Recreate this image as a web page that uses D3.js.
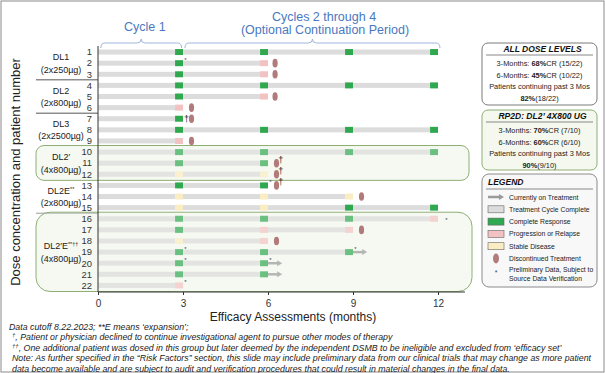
<!DOCTYPE html>
<html>
<head>
<meta charset="utf-8">
<script src="https://cdn.jsdelivr.net/npm/d3@7"></script>
<style>
  body { margin: 0; background: #fff; }
  svg { font-family: "Liberation Sans", Arial, sans-serif; display: block; }
</style>
</head>
<body>
<div id="svg"></div>
<script>
// patients and the result of each completed 3-month cycle
var patientIds = [1, 2, 3, 4, 5, 6, 7, 8, 9, 10, 11, 12, 13, 14, 15, 16, 17, 18, 19, 20, 21, 22];
var cycleResults = [
  ["CR", "CR", "CR", "CR"],
  ["CR", "PD"],
  ["CR", "PD"],
  ["CR", "CR", "CR", "CR"],
  ["CR", "PD"],
  ["PD"],
  ["CR"],
  ["CR", "CR", "CR", "CR"],
  ["PD"],
  ["CR", "CR", "CR", "CR"],
  ["CR", "CR"],
  ["SD", "SD"],
  ["CR", "CR"],
  ["SD", "SD", "SD"],
  ["SD", "SD", "CR", "CR"],
  ["CR", "CR", "CR", "PD"],
  ["CR", "PD", "PD"],
  ["SD", "PD"],
  ["CR", "CR", "CR"],
  ["CR", "CR"],
  ["CR", "CR"],
  ["PD"]
];
var cycleLength = 3;

var discPatients = [2, 3, 5, 6, 7, 9, 11, 12, 13, 14, 17, 18];
var discMonths = [6.25, 6.25, 6.25, 3.3, 3.3, 3.3, 6.3, 6.3, 6.3, 9.3, 9.3, 6.3];

var daggerPatients = [7, 11, 12, 13];
var daggerMonths = [3.12, 6.45, 6.45, 6.45];

var arrowPatients = [19, 20, 21];
var arrowEnds = [9.5, 6.5, 6.5];

var starPatients = [2, 13, 16, 19, 19, 20, 20, 22];
var starMonths = [3, 6, 12.3, 3, 9, 3, 6, 3];

// dose groups
var groupNames = ["DL1", "DL2", "DL3", "DL2\u2032", "DL2E", "DL2\u2032E"];
var groupSups = ["", "", "", "", "**", "**\u2020\u2020"];
var groupDoses = ["(2x250\u00b5g)", "(2x800\u00b5g)", "(2x2500\u00b5g)", "(4x800\u00b5g)", "(2x800\u00b5g)", "(4x800\u00b5g)"];
var groupFirst = [1, 4, 7, 10, 13, 16];
var groupLast = [3, 6, 9, 12, 15, 22];
var groupBoxed = [false, false, false, true, false, true];

var xTicks = [0, 3, 6, 9, 12];

// side panels
var allDoseTitle = "ALL DOSE LEVELS";
var allDoseLines = [["3-Months: ", "68%", "CR (15/22)"], ["6-Months: ", "45%", "CR (10/22)"], ["Patients continuing past 3 Mos", "", ""], ["", "82%", "(18/22)"]];
var rp2dTitle = "RP2D: DL2\u2019 4X800 UG";
var rp2dLines = [["3-Months: ", "70%", "CR (7/10)"], ["6-Months: ", "60%", "CR (6/10)"], ["Patients continuing past 3 Mos", "", ""], ["", "90%", "(9/10)"]];
var legendKeys = ["arrow", "TC", "CR", "PD", "SD", "disc", "star"];
var legendLabels = ["Currently on Treatment", "Treatment Cycle Complete", "Complete Response", "Progression or Relapse", "Stable Disease", "Discontinued Treatment", "Preliminary Data, Subject to|Source Data Verification"];

var footnotes = [
  ["", "Data cutoff 8.22.2023; **E means \u2018expansion\u2019;"],
  ["\u2020", ", Patient or physician declined to continue investigational agent to pursue other modes of therapy"],
  ["\u2020\u2020", ", One additional patient was dosed in this group but later deemed by the independent DSMB to be ineligible and excluded from \u2018efficacy set\u2019"],
  ["", "Note: As further specified in the \u201cRisk Factors\u201d section, this slide may include preliminary data from our clinical trials that may change as more patient"],
  ["", "data become available and are subject to audit and verification procedures that could result in material changes in the final data."]
];

var colors = { CR: "#2fa84f", PD: "#f2c2c2", SD: "#fbedc3", TC: "#dcdcdc", disc: "#b27b7b", arrow: "#9a9a9a" };

var width = 605, height = 373;
var svg = d3.select("#svg").append("svg").attr("width", width).attr("height", height);

var x = d3.scaleLinear().domain([0, 12]).range([98, 438]);
var y = d3.scaleBand().domain(patientIds).range([46.5, 291]);
var yc = function(p) { return y(p) + y.bandwidth() / 2; };
var blue = "#4a78c0";

// frame
svg.append("rect").attr("x", 1).attr("y", 1).attr("width", width - 2).attr("height", height - 2)
  .attr("fill", "none").attr("stroke", "#8a8a8a").attr("stroke-width", 1);

// group boxes (background)
var boxes = [];
groupNames.forEach(function(g, i) {
  if (!groupBoxed[i]) return;
  var top = y(groupFirst[i]) - 1, bot = y(groupLast[i]) + y.bandwidth() + 0.5;
  boxes.push({ top: top, bot: bot, r: i === 5 ? 14 : 8, right: i === 5 ? 472 : 469 });
});
svg.selectAll(".boxbg").data(boxes).enter().append("rect")
  .attr("x", 36).attr("y", function(d) { return d.top; })
  .attr("width", function(d) { return d.right - 36; })
  .attr("height", function(d) { return d.bot - d.top; })
  .attr("rx", function(d) { return d.r; })
  .attr("fill", "#f5f9f1");

// separators between unboxed groups
var sepRows = [3, 6, 15];
svg.selectAll(".sep").data(sepRows).enter().append("line")
  .attr("x1", 36).attr("x2", x(0))
  .attr("y1", function(d) { return y(d) + y.bandwidth(); })
  .attr("y2", function(d) { return y(d) + y.bandwidth(); })
  .attr("stroke", function(d) { return d === 15 ? "#999" : "#555"; }).attr("stroke-width", 1);

// bars
var segW = 0.28;
patientIds.forEach(function(p, i) {
  var res = cycleResults[i];
  var g = svg.append("g");
  res.forEach(function(r, c) {
    var s = c * cycleLength, e = (c + 1) * cycleLength;
    g.append("rect").attr("x", x(s)).attr("width", x(e - segW) - x(s))
      .attr("y", yc(p) - 2.5).attr("height", 5).attr("fill", colors.TC);
    g.append("rect").attr("x", x(e - segW)).attr("width", x(e) - x(e - segW))
      .attr("y", yc(p) - 3).attr("height", 6).attr("fill", colors[r]);
  });
});

// arrows: currently on treatment
arrowPatients.forEach(function(p, i) {
  var s = cycleResults[p - 1].length * cycleLength;
  svg.append("line").attr("x1", x(s)).attr("x2", x(arrowEnds[i]) - 4)
    .attr("y1", yc(p)).attr("y2", yc(p)).attr("stroke", colors.arrow).attr("stroke-width", 2.5);
  svg.append("path").attr("d", "M" + (x(arrowEnds[i]) - 5) + "," + (yc(p) - 3) + "L" + x(arrowEnds[i]) + "," + yc(p) + "L" + (x(arrowEnds[i]) - 5) + "," + (yc(p) + 3) + "Z")
    .attr("fill", colors.arrow);
});

// overlay to lighten marks inside boxes
svg.selectAll(".boxov").data(boxes).enter().append("rect")
  .attr("x", 36).attr("y", function(d) { return d.top; })
  .attr("width", function(d) { return d.right - 36; })
  .attr("height", function(d) { return d.bot - d.top; })
  .attr("rx", function(d) { return d.r; })
  .attr("fill", "#f5f9f1").attr("fill-opacity", 0.3)
  .attr("stroke", "#8fae74").attr("stroke-width", 1);

// discontinued
svg.selectAll(".disc").data(discPatients).enter().append("ellipse")
  .attr("cx", function(d, i) { return x(discMonths[i]); })
  .attr("cy", function(d) { return yc(d); })
  .attr("rx", 2.6).attr("ry", 4.3).attr("fill", colors.disc);

svg.selectAll(".dag").data(daggerPatients).enter().append("text")
  .attr("x", function(d, i) { return x(daggerMonths[i]); })
  .attr("y", function(d) { return yc(d) + (d === 7 ? 3 : 0); })
  .attr("font-size", 9).attr("fill", "#222").attr("text-anchor", "middle")
  .text("\u2020");

svg.selectAll(".star").data(starPatients).enter().append("text")
  .attr("x", function(d, i) { return x(starMonths[i]) + (starMonths[i] % 3 === 0 ? 2.5 : 0); })
  .attr("y", function(d, i) { return yc(d) + (starMonths[i] % 3 === 0 ? -1 : 3); })
  .attr("font-size", 6).attr("fill", "#445").attr("text-anchor", "middle")
  .text("*");

// y axis line and patient numbers
svg.append("line").attr("x1", x(0)).attr("x2", x(0)).attr("y1", 46).attr("y2", 292)
  .attr("stroke", "#333").attr("stroke-width", 1);
svg.selectAll(".pid").data(patientIds).enter().append("text")
  .attr("x", 92).attr("y", function(d) { return yc(d) + 3.3; })
  .attr("text-anchor", "end").attr("font-size", 9.4).attr("fill", "#333")
  .text(function(d) { return d; });

// group labels
groupNames.forEach(function(g, i) {
  var mid = (yc(groupFirst[i]) + yc(groupLast[i])) / 2;
  var t = svg.append("text").attr("x", 61).attr("y", mid - 3).attr("text-anchor", "middle")
    .attr("font-size", 9).attr("fill", "#222");
  t.append("tspan").text(g);
  if (groupSups[i]) t.append("tspan").attr("font-size", 5.5).attr("dy", -3).text(groupSups[i]);
  svg.append("text").attr("x", 61).attr("y", mid + 9.5).attr("text-anchor", "middle")
    .attr("font-size", 9).attr("fill", "#222").text(groupDoses[i]);
});

// x axis
var xAxis = d3.axisBottom(x).tickValues(xTicks).tickSize(3).tickPadding(5);
var xg = svg.append("g").attr("transform", "translate(0,292)").call(xAxis);
xg.select(".domain").remove();
xg.selectAll("text").attr("font-size", 10).attr("fill", "#333").attr("font-family", "Liberation Sans, Arial, sans-serif");
xg.selectAll("line").attr("stroke", "#333");
svg.append("line").attr("x1", x(0)).attr("x2", x(12.95)).attr("y1", 292).attr("y2", 292)
  .attr("stroke", "#333").attr("stroke-width", 1);

svg.append("text").attr("x", 293).attr("y", 321).attr("text-anchor", "middle")
  .attr("font-size", 12).attr("fill", "#222").text("Efficacy Assessments (months)");

svg.append("text").attr("transform", "translate(20,172) rotate(-90)").attr("text-anchor", "middle")
  .attr("font-size", 13).attr("fill", "#222").text("Dose concentration and patient number");

// cycle brackets
function brace(x0, x1, yb) {
  var xm = (x0 + x1) / 2;
  return "M" + x0 + "," + (yb + 5) + "Q" + x0 + "," + yb + " " + (x0 + 4) + "," + yb +
    "L" + (xm - 4) + "," + yb + "Q" + xm + "," + yb + " " + xm + "," + (yb - 4) +
    "Q" + xm + "," + yb + " " + (xm + 4) + "," + yb +
    "L" + (x1 - 4) + "," + yb + "Q" + x1 + "," + yb + " " + x1 + "," + (yb + 5);
}
svg.append("path").attr("d", brace(x(0.1), x(2.95), 43)).attr("fill", "none").attr("stroke", "#9fb6dc");
svg.append("path").attr("d", brace(x(3.07), x(12.07), 43)).attr("fill", "none").attr("stroke", "#9fb6dc");
svg.append("text").attr("x", x(1.65)).attr("y", 31).attr("text-anchor", "middle")
  .attr("font-size", 12.5).attr("fill", blue).text("Cycle 1");
svg.append("text").attr("x", 324).attr("y", 21).attr("text-anchor", "middle")
  .attr("font-size", 12.5).attr("fill", blue).text("Cycles 2 through 4");
svg.append("text").attr("x", 325).attr("y", 34).attr("text-anchor", "middle")
  .attr("font-size", 12.5).attr("fill", blue).text("(Optional Continuation Period)");

// footnotes
footnotes.forEach(function(f, i) {
  var t = svg.append("text").attr("x", i === 0 ? 9 : 12).attr("y", 330 + i * 10.4)
    .attr("font-size", 8.8).attr("font-style", "italic").attr("fill", "#222");
  if (f[0]) t.append("tspan").attr("font-size", 6).attr("dy", -3).text(f[0]);
  t.append("tspan").attr("dy", f[0] ? 3 : 0).text(f[1]);
});

// side panels
var px = 482, pw = 115, pcx = px + pw / 2;
function statPanel(top, h, title, lines, stroke, fill) {
  svg.append("rect").attr("x", px).attr("y", top).attr("width", pw).attr("height", h)
    .attr("rx", 6).attr("fill", fill).attr("stroke", stroke).attr("stroke-width", 1);
  svg.append("text").attr("x", pcx + 3).attr("y", top + 9).attr("text-anchor", "middle")
    .attr("font-size", 8.5).attr("font-weight", "bold").attr("font-style", "italic").attr("fill", "#111")
    .text(title);
  svg.append("line").attr("x1", px + 4).attr("x2", px + pw - 4).attr("y1", top + 12).attr("y2", top + 12)
    .attr("stroke", "#888");
  lines.forEach(function(l, i) {
    var t = svg.append("text").attr("x", pcx).attr("y", top + 23 + i * 11.5).attr("text-anchor", "middle")
      .attr("font-size", 7.4).attr("fill", "#222");
    t.append("tspan").text(l[0]);
    if (l[1]) t.append("tspan").attr("font-weight", "bold").text(l[1]);
    if (l[2]) t.append("tspan").text(l[2]);
  });
}
statPanel(43, 62, allDoseTitle, allDoseLines, "#7a7a7a", "#fff");
statPanel(110, 60, rp2dTitle, rp2dLines, "#8fae74", "#f4f8ef");

// legend
var lt = 174;
svg.append("rect").attr("x", px).attr("y", lt).attr("width", pw).attr("height", 113)
  .attr("rx", 7).attr("fill", "#f8f8f8").attr("stroke", "#8a8a8a");
svg.append("text").attr("x", px + 6).attr("y", lt + 11).attr("font-size", 8.5)
  .attr("font-weight", "bold").attr("font-style", "italic").attr("fill", "#111").text("LEGEND");
svg.append("line").attr("x1", px + 4).attr("x2", px + pw - 4).attr("y1", lt + 15).attr("y2", lt + 15)
  .attr("stroke", "#888");
legendKeys.forEach(function(k, i) {
  var cy = lt + 23 + i * 12.3;
  var sx = px + 6;
  if (k === "arrow") {
    svg.append("line").attr("x1", sx).attr("x2", sx + 12).attr("y1", cy).attr("y2", cy)
      .attr("stroke", colors.arrow).attr("stroke-width", 2.5);
    svg.append("path").attr("d", "M" + (sx + 11) + "," + (cy - 3) + "L" + (sx + 16) + "," + cy + "L" + (sx + 11) + "," + (cy + 3) + "Z")
      .attr("fill", colors.arrow);
  } else if (k === "disc") {
    svg.append("ellipse").attr("cx", sx + 8).attr("cy", cy).attr("rx", 3).attr("ry", 5).attr("fill", colors.disc);
  } else if (k === "star") {
    svg.append("text").attr("x", sx + 8).attr("y", cy + 4).attr("text-anchor", "middle")
      .attr("font-size", 7).attr("fill", "#445").text("*");
  } else {
    svg.append("rect").attr("x", sx).attr("y", cy - 3.5).attr("width", 16).attr("height", 7)
      .attr("fill", colors[k]).attr("stroke", "#666").attr("stroke-width", 0.6);
  }
  var parts = legendLabels[i].split("|");
  parts.forEach(function(s, j) {
    svg.append("text").attr("x", sx + 21).attr("y", cy + 2.5 + j * 9 - (parts.length > 1 ? 1 : 0))
      .attr("font-size", 6.8).attr("fill", "#222").text(s);
  });
});
</script>
</body>
</html>
